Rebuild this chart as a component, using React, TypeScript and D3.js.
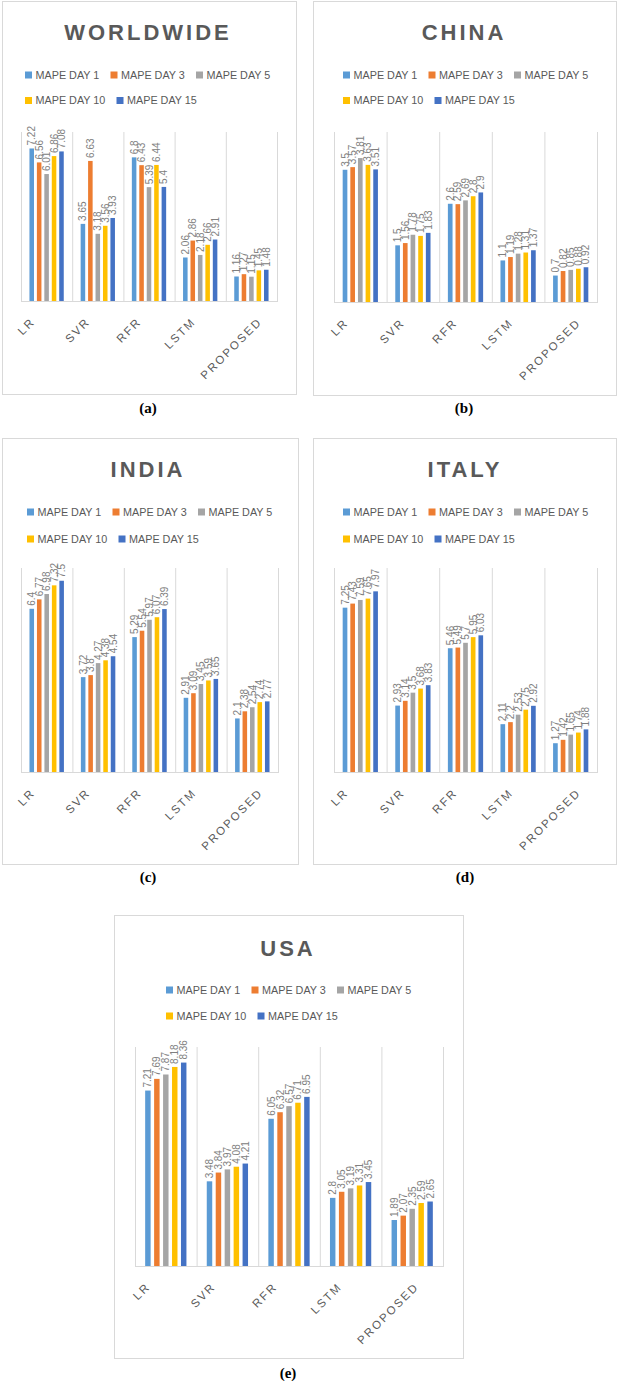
import React from "react";
import * as d3 from "d3";

// categories and series shared by all five charts
const categories = ["LR", "SVR", "RFR", "LSTM", "PROPOSED"];
const seriesNames = ["MAPE DAY 1", "MAPE DAY 3", "MAPE DAY 5", "MAPE DAY 10", "MAPE DAY 15"];
const seriesColors = ["#5B9BD5", "#ED7D31", "#A5A5A5", "#FFC000", "#4472C4"];

// values[category][series]
const worldwide = [
  [7.22, 6.56, 6.01, 6.86, 7.08],
  [3.65, 6.63, 3.18, 3.56, 3.93],
  [6.8, 6.43, 5.39, 6.44, 5.4],
  [2.06, 2.86, 2.18, 2.66, 2.91],
  [1.16, 1.27, 1.15, 1.45, 1.48],
];
const china = [
  [3.5, 3.57, 3.81, 3.63, 3.51],
  [1.5, 1.56, 1.78, 1.75, 1.83],
  [2.6, 2.59, 2.69, 2.8, 2.9],
  [1.1, 1.19, 1.28, 1.31, 1.37],
  [0.7, 0.82, 0.85, 0.88, 0.92],
];
const india = [
  [6.4, 6.77, 6.98, 7.32, 7.5],
  [3.72, 3.8, 4.27, 4.38, 4.54],
  [5.29, 5.54, 5.97, 6.07, 6.39],
  [2.91, 3.09, 3.45, 3.59, 3.65],
  [2.1, 2.38, 2.54, 2.74, 2.77],
];
const italy = [
  [7.25, 7.43, 7.59, 7.65, 7.97],
  [2.93, 3.14, 3.5, 3.68, 3.83],
  [5.46, 5.49, 5.7, 5.95, 6.03],
  [2.11, 2.2, 2.53, 2.75, 2.92],
  [1.27, 1.42, 1.65, 1.74, 1.88],
];
const usa = [
  [7.21, 7.69, 7.87, 8.18, 8.36],
  [3.48, 3.84, 3.97, 4.08, 4.21],
  [6.05, 6.32, 6.57, 6.71, 6.95],
  [2.8, 3.05, 3.19, 3.31, 3.45],
  [1.89, 2.07, 2.35, 2.59, 2.65],
];

// layout of each panel: box = [x0,y0,x1,y1], plot = [x0,y0,x1,y1]
const panels = [
  { title: "WORLDWIDE", values: worldwide, yMax: 8, caption: "(a)", box: [2, 1, 296, 394], plot: [21, 132, 277, 301], titleX: 148, titleY: 40, legendX: 25, legendY: [75, 100.5], capX: 148, capY: 413 },
  { title: "CHINA", values: china, yMax: 4.5, caption: "(b)", box: [313, 1, 616, 395], plot: [334, 132, 597, 302], titleX: 464, titleY: 40, legendX: 343, legendY: [75, 100.5], capX: 464, capY: 413 },
  { title: "INDIA", values: india, yMax: 8, caption: "(c)", box: [2, 438, 298, 864], plot: [21, 568, 278, 772], titleX: 148, titleY: 477, legendX: 27, legendY: [512, 539], capX: 148, capY: 882 },
  { title: "ITALY", values: italy, yMax: 9, caption: "(d)", box: [313, 438, 616, 864], plot: [334, 568, 597, 772], titleX: 465, titleY: 477, legendX: 343, legendY: [512, 539], capX: 465, capY: 882 },
  { title: "USA", values: usa, yMax: 9, caption: "(e)", box: [114, 915, 463, 1358], plot: [135, 1047, 443, 1266], titleX: 288, titleY: 956, legendX: 166, legendY: [990, 1016], capX: 288, capY: 1378 },
];

const FONT = "'Liberation Sans', Arial, sans-serif";
const GRID = "#d9d9d9";
const TEXT = "#595959";
const LEGEND_SIZE = 10.8;

let ctx: CanvasRenderingContext2D | null = null;
function measure(text: string, font: string, spacing = 0) {
  if (!ctx) ctx = document.createElement("canvas").getContext("2d");
  if (!ctx) return text.length * 7;
  ctx.font = font;
  return ctx.measureText(text).width + spacing * (text.length - 1);
}

function Legend({ x, ys }: { x: number; ys: number[] }) {
  const rows = [seriesNames.slice(0, 3), seriesNames.slice(3)];
  let idx = 0;
  return (
    <g>
      {rows.map((row, r) => {
        let cx = x;
        return row.map((name) => {
          const i = idx++;
          const w = measure(name, `${LEGEND_SIZE}px ${FONT}`);
          const item = (
            <g key={name}>
              <rect x={cx} y={ys[r] - 3.5} width={7} height={7} fill={seriesColors[i]} />
              <text x={cx + 10.5} y={ys[r]} dy="0.36em" fontSize={LEGEND_SIZE} fontFamily={FONT} fill={TEXT}>
                {name}
              </text>
            </g>
          );
          cx += 10.5 + w + 11;
          return item;
        });
      })}
    </g>
  );
}

function Panel({ p }: { p: typeof panels[number] }) {
  const [px0, py0, px1, py1] = p.plot;
  const x = d3.scaleBand().domain(categories).range([px0, px1]).padding(0);
  const bw = x.bandwidth();
  const inner = d3
    .scaleBand()
    .domain(seriesNames)
    .range([bw * 0.165, bw * 0.835])
    .paddingInner(0.39);
  const y = d3.scaleLinear().domain([0, p.yMax]).range([py1, py0]);
  const [bx0, by0, bx1, by1] = p.box;

  return (
    <g>
      <rect x={bx0 + 0.5} y={by0 + 0.5} width={bx1 - bx0} height={by1 - by0} fill="#fff" stroke={GRID} />
      <text x={p.titleX} y={p.titleY} textAnchor="middle" fontSize={22} fontWeight="bold" fontFamily={FONT} fill={TEXT} letterSpacing={3}>
        {p.title}
      </text>
      <Legend x={p.legendX} ys={p.legendY} />
      {categories.map((c) => (
        <line key={c} x1={x(c)! + 0.5} x2={x(c)! + 0.5} y1={py0} y2={py1} stroke={GRID} />
      ))}
      <line x1={px1 + 0.5} x2={px1 + 0.5} y1={py0} y2={py1} stroke={GRID} />
      <line x1={px0} x2={px1 + 1} y1={py1 + 0.5} y2={py1 + 0.5} stroke={GRID} />
      {categories.map((c, ci) =>
        seriesNames.map((s, si) => {
          const v = p.values[ci][si];
          const bx = x(c)! + inner(s)!;
          const cxb = bx + inner.bandwidth() / 2;
          return (
            <g key={c + s}>
              <rect x={bx} y={y(v)} width={inner.bandwidth()} height={py1 - y(v)} fill={seriesColors[si]} />
              <text
                transform={`translate(${cxb},${y(v) - 3}) rotate(-90)`}
                dy="0.35em"
                fontSize={10}
                fontFamily={FONT}
                fill="#808080"
              >
                {String(v)}
              </text>
            </g>
          );
        })
      )}
      {categories.map((c) => {
        const L = measure(c, `11.5px ${FONT}`, 2);
        const h = (L + 8) * Math.SQRT1_2;
        const mx = x(c)! + bw / 2 - 0.395 * bw;
        const my = py1 + 16.5 + h / 2;
        return (
          <text
            key={c}
            transform={`translate(${mx},${my}) rotate(-45)`}
            textAnchor="middle"
            dy="0.35em"
            fontSize={11.5}
            fontFamily={FONT}
            fill={TEXT}
            letterSpacing={2}
          >
            {c}
          </text>
        );
      })}
      <text x={p.capX} y={p.capY} textAnchor="middle" fontSize={15} fontWeight="bold" fontFamily="'Liberation Serif', 'Times New Roman', serif" fill="#000">
        {p.caption}
      </text>
    </g>
  );
}

export default function App() {
  return (
    <svg width={618} height={1381} style={{ position: "absolute", left: 0, top: 0, background: "#fff" }}>
      {panels.map((p) => (
        <Panel key={p.title} p={p} />
      ))}
    </svg>
  );
}
